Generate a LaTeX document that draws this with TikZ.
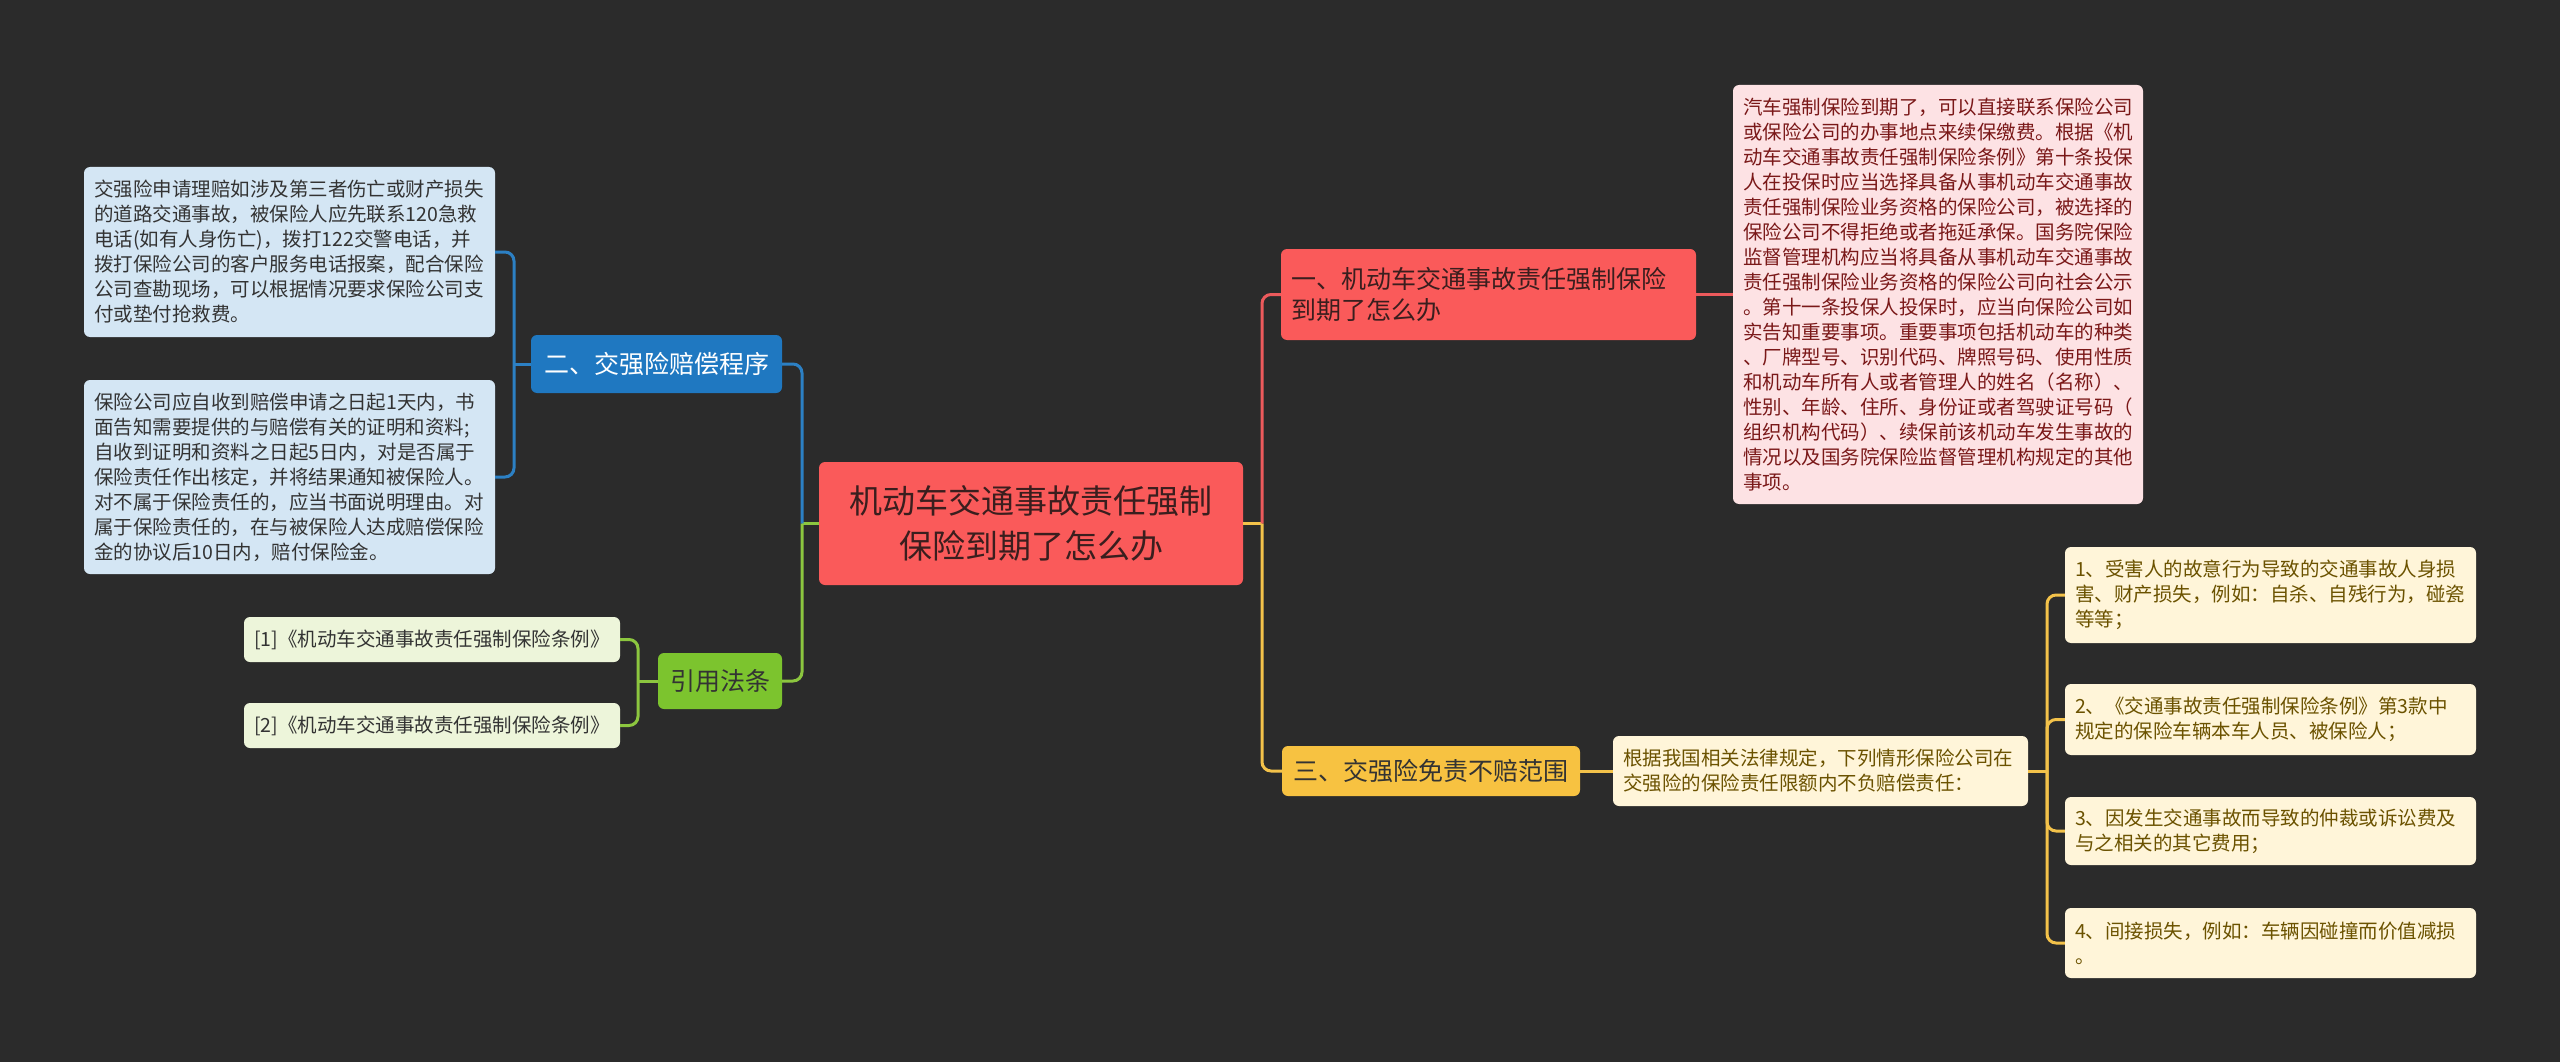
\documentclass[tikz,border=0pt]{standalone}
\usepackage{fontspec}
\setmainfont{Noto Sans CJK SC}
\definecolor{bg}{HTML}{2B2B2B}
\definecolor{redfill}{HTML}{FA5A5A}
\definecolor{redline}{HTML}{EC5A5C}
\definecolor{pinkfill}{HTML}{FDE2E4}
\definecolor{pinktext}{HTML}{7A1818}
\definecolor{bluefill}{HTML}{1F78C1}
\definecolor{bluedet}{HTML}{D4E6F4}
\definecolor{blueline}{HTML}{2C80C4}
\definecolor{greenfill}{HTML}{7CC42E}
\definecolor{greendet}{HTML}{EDF5DA}
\definecolor{greenline}{HTML}{8CC63F}
\definecolor{yelfill}{HTML}{F7C241}
\definecolor{yeldet}{HTML}{FFF5D9}
\definecolor{yeltext}{HTML}{6B5200}
\definecolor{yelline}{HTML}{F3C24A}
\definecolor{darktext}{HTML}{333333}
\definecolor{redtext}{HTML}{3A1E1E}
\tikzset{
  box/.style={rounded corners=6pt, inner xsep=10pt, inner ysep=0pt, anchor=center},
  small/.style={font=\fontsize{19.5pt}{25pt}\selectfont, align=left},
  mid/.style={font=\fontsize{25pt}{31.6pt}\selectfont},
  cline/.style={line width=3pt, rounded corners=9pt},
}
\begin{document}
\begin{tikzpicture}[x=1pt,y=-1pt]
\fill[bg] (0,0) rectangle (2560,1062);
\useasboundingbox (0,0) rectangle (2560,1062);

% center
\node[box, fill=redfill, text=redtext, minimum height=123pt, text width=404pt, align=center,
  font=\fontsize{33pt}{45pt}\selectfont] (c) at (1031,523.5)
  {机动车交通事故责任强制\\保险到期了怎么办};

% branch 1
\node[box, mid, align=left, fill=redfill, text=redtext, minimum height=91pt, text width=395pt] (n1) at (1488.5,294.5)
  {一、机动车交通事故责任强制保险\\到期了怎么办};
\node[box, small, fill=pinkfill, text=pinktext, minimum height=419pt, text width=390pt] (d1) at (1938,294.5)
  {汽车强制保险到期了，可以直接联系保险公司\\
或保险公司的办事地点来续保缴费。根据《机\\
动车交通事故责任强制保险条例》第十条投保\\
人在投保时应当选择具备从事机动车交通事故\\
责任强制保险业务资格的保险公司，被选择的\\
保险公司不得拒绝或者拖延承保。国务院保险\\
监督管理机构应当将具备从事机动车交通事故\\
责任强制保险业务资格的保险公司向社会公示\\
。第十一条投保人投保时，应当向保险公司如\\
实告知重要事项。重要事项包括机动车的种类\\
、厂牌型号、识别代码、牌照号码、使用性质\\
和机动车所有人或者管理人的姓名（名称）、\\
性别、年龄、住所、身份证或者驾驶证号码（\\
组织机构代码）、续保前该机动车发生事故的\\
情况以及国务院保险监督管理机构规定的其他\\
事项。};

% branch 2
\node[box, mid, fill=bluefill, text=white, minimum height=58pt, text width=231pt, align=center] (n2) at (656.5,364)
  {二、交强险赔偿程序};
\node[box, small, fill=bluedet, text=darktext, minimum height=170pt, text width=391pt] (b1) at (289.5,252)
  {交强险申请理赔如涉及第三者伤亡或财产损失\\
的道路交通事故，被保险人应先联系120急救\\
电话(如有人身伤亡)，拨打122交警电话，并\\
拨打保险公司的客户服务电话报案，配合保险\\
公司查勘现场，可以根据情况要求保险公司支\\
付或垫付抢救费。};
\node[box, small, fill=bluedet, text=darktext, minimum height=194pt, text width=391pt] (b2) at (289.5,477)
  {保险公司应自收到赔偿申请之日起1天内，书\\
面告知需要提供的与赔偿有关的证明和资料;\\
自收到证明和资料之日起5日内，对是否属于\\
保险责任作出核定，并将结果通知被保险人。\\
对不属于保险责任的，应当书面说明理由。对\\
属于保险责任的，在与被保险人达成赔偿保险\\
金的协议后10日内，赔付保险金。};

% branch refs
\node[box, mid, fill=greenfill, text=darktext, minimum height=56pt, text width=104pt, align=center] (n3) at (720,681)
  {引用法条};
\node[box, small, fill=greendet, text=darktext, minimum height=45pt, text width=356pt] (r1) at (432,639.5)
  {[1]《机动车交通事故责任强制保险条例》};
\node[box, small, fill=greendet, text=darktext, minimum height=45pt, text width=356pt] (r2) at (432,725.5)
  {[2]《机动车交通事故责任强制保险条例》};

% branch 3
\node[box, mid, fill=yelfill, text=darktext, minimum height=50pt, text width=278pt, align=center] (n4) at (1431,771)
  {三、交强险免责不赔范围};
\node[box, small, fill=yeldet, text=yeltext, minimum height=70pt, text width=395pt] (d3) at (1820.5,771)
  {根据我国相关法律规定，下列情形保险公司在\\交强险的保险责任限额内不负赔偿责任：};
\node[box, small, fill=yeldet, text=yeltext, minimum height=96pt, text width=391pt] (i1) at (2270.5,595)
  {1、受害人的故意行为导致的交通事故人身损\\害、财产损失，例如：自杀、自残行为，碰瓷\\等等；};
\node[box, small, fill=yeldet, text=yeltext, minimum height=71pt, text width=391pt] (i2) at (2270.5,719.5)
  {2、《交通事故责任强制保险条例》第3款中\\规定的保险车辆本车人员、被保险人；};
\node[box, small, fill=yeldet, text=yeltext, minimum height=68pt, text width=391pt] (i3) at (2270.5,831)
  {3、因发生交通事故而导致的仲裁或诉讼费及\\与之相关的其它费用；};
\node[box, small, fill=yeldet, text=yeltext, minimum height=70pt, text width=391pt] (i4) at (2270.5,943)
  {4、间接损失，例如：车辆因碰撞而价值减损\\。};

% junctions
\coordinate (jl) at (802,523.5);
\coordinate (jr) at (1262,523.5);
\coordinate (jb) at (514,364);
\coordinate (jg) at (638,681);
\coordinate (jy) at (2047,771);

% connectors
\draw[cline, greenline] (c.west) -- (jl);
\draw[cline, blueline] (jl) |- (n2.east);
\draw[cline, greenline] (jl) |- (n3.east);
\draw[cline, yelline] (c.east) -- (jr);
\draw[cline, redline] (jr) |- (n1.west);
\draw[cline, yelline] (jr) |- (n4.west);
\draw[cline, redline] (n1.east) -- (d1.west);
\draw[cline, blueline] (n2.west) -- (jb);
\draw[cline, blueline] (jb) |- (b1.east);
\draw[cline, blueline] (jb) |- (b2.east);
\draw[cline, greenline] (n3.west) -- (jg);
\draw[cline, greenline] (jg) |- (r1.east);
\draw[cline, greenline] (jg) |- (r2.east);
\draw[cline, yelline] (n4.east) -- (d3.west);
\draw[cline, yelline] (d3.east) -- (jy);
\draw[cline, yelline] (jy) |- (i1.west);
\draw[cline, yelline] (jy) |- (i2.west);
\draw[cline, yelline] (jy) |- (i3.west);
\draw[cline, yelline] (jy) |- (i4.west);
\end{tikzpicture}
\end{document}
